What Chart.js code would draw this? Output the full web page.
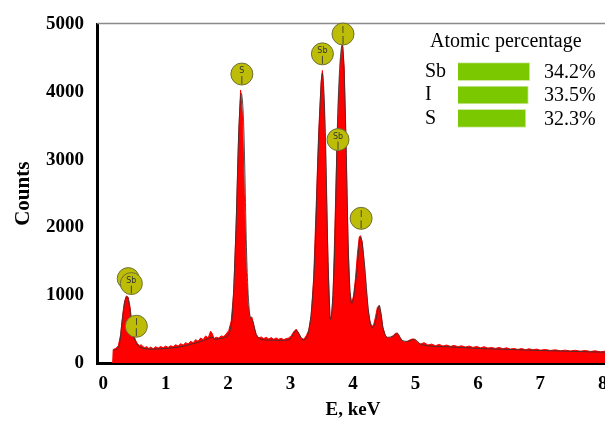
<!DOCTYPE html>
<html>
<head>
<meta charset="utf-8">
<script src="https://cdn.jsdelivr.net/npm/chart.js@4.4.0/dist/chart.umd.min.js"></script>
<style>
    html, body { margin: 0; padding: 0; background: #fff; width: 605px; height: 426px; overflow: hidden; }
    #wrap { position: relative; width: 605px; height: 426px; overflow: hidden; }
    #spectrum { position: absolute; left: 0; top: 0; }
    #atomic { position: absolute; left: 425px; top: 30px; }
</style>
</head>
<body>
<div id="wrap">
    <canvas id="spectrum" width="650" height="426"></canvas>
    <canvas id="atomic" width="180" height="112"></canvas>
</div>
<script>
// spectrum
const energyKeV = [0.15, 0.16, 0.20, 0.24, 0.28, 0.31, 0.34, 0.37, 0.40, 0.43, 0.46, 0.49, 0.52, 0.55, 0.58, 0.61, 0.63, 0.66, 0.70, 0.73,
    0.76, 0.80, 0.84, 0.88, 0.92, 0.96, 1.00, 1.04, 1.08, 1.12, 1.16, 1.20, 1.24, 1.28, 1.32, 1.36, 1.40, 1.44, 1.48, 1.52,
    1.56, 1.60, 1.64, 1.68, 1.72, 1.75, 1.77, 1.81, 1.85, 1.89, 1.93, 1.97, 2.01, 2.05, 2.09, 2.13, 2.17, 2.20, 2.23, 2.26,
    2.29, 2.32, 2.35, 2.38, 2.41, 2.45, 2.49, 2.53, 2.57, 2.61, 2.65, 2.69, 2.73, 2.77, 2.81, 2.85, 2.89, 2.93, 2.97, 3.01,
    3.05, 3.09, 3.13, 3.17, 3.21, 3.25, 3.29, 3.33, 3.37, 3.41, 3.45, 3.49, 3.51, 3.54, 3.57, 3.60, 3.63, 3.65, 3.68, 3.71,
    3.74, 3.77, 3.80, 3.83, 3.86, 3.89, 3.92, 3.95, 3.98, 4.01, 4.04, 4.07, 4.10, 4.12, 4.15, 4.18, 4.21, 4.24, 4.27, 4.30,
    4.33, 4.36, 4.39, 4.42, 4.45, 4.48, 4.52, 4.56, 4.60, 4.64, 4.68, 4.71, 4.75, 4.79, 4.83, 4.87, 4.91, 4.95, 4.99, 5.03,
    5.08, 5.14, 5.20, 5.26, 5.32, 5.38, 5.44, 5.50, 5.56, 5.62, 5.68, 5.74, 5.80, 5.86, 5.92, 5.98, 6.04, 6.10, 6.16, 6.22,
    6.28, 6.34, 6.40, 6.46, 6.52, 6.58, 6.64, 6.70, 6.76, 6.82, 6.88, 6.94, 7.00, 7.08, 7.16, 7.24, 7.32, 7.40, 7.48, 7.56,
    7.64, 7.72, 7.80, 7.88, 7.96, 8.04, 8.15];
const counts = [0, 200, 215, 250, 420, 700, 900, 990, 970, 820, 580, 410, 330, 285, 255, 270, 245, 230, 240, 215,
    235, 210, 240, 220, 245, 225, 250, 230, 255, 240, 270, 250, 285, 265, 300, 280, 320, 300, 345, 320,
    370, 345, 400, 370, 470, 430, 360, 380, 370, 400, 390, 430, 480, 620, 1050, 2100, 3400, 4030, 3650, 2500,
    1400, 850, 660, 680, 560, 420, 370, 385, 360, 380, 355, 375, 350, 370, 350, 365, 345, 360, 370, 400,
    460, 500, 440, 370, 350, 400, 480, 700, 1250, 2300, 3400, 4150, 4320, 3800, 2700, 1500, 700, 620, 1000, 2000,
    3100, 3900, 4450, 4720, 4350, 3100, 1800, 1050, 880, 1000, 1250, 1600, 1860, 1880, 1780, 1450, 1100, 800, 620, 540,
    560, 680, 820, 850, 720, 520, 400, 370, 375, 400, 440, 440, 380, 330, 310, 320, 340, 355, 350, 310,
    280, 300, 265, 280, 255, 275, 250, 265, 245, 260, 240, 255, 235, 250, 230, 245, 225, 240, 220, 230,
    215, 230, 210, 225, 205, 215, 200, 215, 195, 210, 195, 205, 190, 200, 185, 195, 180, 190, 178, 188,
    175, 185, 170, 180, 165, 175, 160];

// smoothed outline drawn over the fill
const fitKeV = [0.16, 0.25, 0.30, 0.34, 0.38, 0.42, 0.47, 0.52, 0.60, 0.80, 1.00, 1.20, 1.40, 1.60, 1.76, 1.78, 1.95, 2.05, 2.12, 2.17,
    2.21, 2.25, 2.30, 2.35, 2.39, 2.45, 2.60, 2.90, 3.00, 3.09, 3.20, 3.30, 3.38, 3.45, 3.51, 3.56, 3.60, 3.64, 3.70, 3.76,
    3.83, 3.88, 3.93, 3.98, 4.05, 4.12, 4.18, 4.25, 4.31, 4.37, 4.42, 4.48, 4.55, 4.65, 4.71, 4.78, 4.88, 4.98, 5.10, 5.50,
    6.00, 6.50, 7.00, 7.50, 8.00, 8.15];
const fitCounts = [190, 240, 600, 880, 980, 850, 480, 310, 230, 205, 215, 235, 275, 330, 380, 350, 380, 560, 1800, 3400,
    3980, 3500, 1500, 700, 630, 420, 340, 335, 360, 480, 340, 520, 1400, 3300, 4280, 3300, 1500, 640, 1500, 3800,
    4700, 3600, 1500, 880, 1250, 1860, 1500, 750, 520, 650, 850, 520, 380, 400, 440, 340, 320, 350, 270, 240,
    215, 200, 185, 172, 160, 158];

const xTicks = [0, 1, 2, 3, 4, 5, 6, 7, 8];
const yTicks = [0, 1000, 2000, 3000, 4000, 5000];

// peak markers
const peakLabels = ['', 'Sb', 'I', 'S', 'Sb', 'I', 'Sb', 'I'];
const peakKeV = [0.40, 0.45, 0.53, 2.22, 3.51, 3.84, 3.76, 4.13];
const peakCounts = [1246, 1173, 543, 4267, 4565, 4858, 3299, 2136];

// atomic percentage box
const elements = ['Sb', 'I', 'S'];
const atomicPercent = [34.2, 33.5, 32.3];

const serifBold = { family: 'Liberation Serif', size: 19, weight: 'bold' };

const peakMarkers = {
    id: 'peakMarkers',
    beforeDatasetsDraw(chart) {
        const { ctx, chartArea } = chart;
        ctx.save();
        ctx.strokeStyle = '#8a8a8a';
        ctx.lineWidth = 1.5;
        ctx.beginPath();
        ctx.moveTo(chartArea.left, chartArea.top - 1);
        ctx.lineTo(chartArea.right, chartArea.top - 1);
        ctx.stroke();
        ctx.restore();
    },
    afterDatasetsDraw(chart) {
        const { ctx, scales } = chart;
        ctx.save();
        peakLabels.forEach((txt, i) => {
            const px = scales.x.getPixelForValue(peakKeV[i]);
            const py = scales.y.getPixelForValue(peakCounts[i]);
            ctx.beginPath();
            ctx.arc(px, py, 11, 0, Math.PI * 2);
            ctx.fillStyle = '#bdbd08';
            ctx.fill();
            ctx.lineWidth = 1;
            ctx.strokeStyle = '#6e6e3a';
            ctx.stroke();
            if (txt) {
                ctx.fillStyle = '#333';
                ctx.font = '8px "DejaVu Sans"';
                ctx.textAlign = 'center';
                ctx.textBaseline = 'middle';
                ctx.fillText(txt, px, py - 3);
                ctx.beginPath();
                ctx.moveTo(px, py + 2);
                ctx.lineTo(px, py + 10);
                ctx.lineWidth = 1;
                ctx.strokeStyle = '#444';
                ctx.stroke();
            }
        });
        ctx.restore();
    }
};

new Chart(document.getElementById('spectrum'), {
    type: 'scatter',
    data: {
        datasets: [{
            data: fitKeV.map((e, i) => ({ x: e, y: fitCounts[i] })),
            showLine: true,
            borderColor: 'rgba(50, 50, 50, 0.85)',
            borderWidth: 1,
            cubicInterpolationMode: 'monotone',
            pointRadius: 0,
            fill: false
        }, {
            data: energyKeV.map((e, i) => ({ x: e, y: counts[i] })),
            showLine: true,
            borderColor: '#ff0000',
            backgroundColor: '#ff0000',
            borderWidth: 1,
            pointRadius: 0,
            fill: 'origin'
        }]
    },
    options: {
        responsive: false,
        animation: false,
        layout: { padding: { top: 22, right: 41, left: 0, bottom: 0 } },
        plugins: { legend: { display: false }, tooltip: { enabled: false } },
        scales: {
            x: {
                type: 'linear',
                min: -0.1,
                max: 8.1,
                afterBuildTicks: scale => { scale.ticks = xTicks.map(v => ({ value: v })); },
                afterFit: scale => { scale.height = 63; },
                grid: { display: false, drawTicks: false },
                border: { color: '#000', width: 3 },
                ticks: { color: '#000', font: serifBold, padding: 10, callback: v => String(v) },
                title: { display: true, text: 'E, keV', color: '#000', font: serifBold, padding: { top: 0, bottom: 5 } }
            },
            y: {
                min: 0,
                max: 5000,
                afterBuildTicks: scale => { scale.ticks = yTicks.map(v => ({ value: v })); },
                afterFit: scale => { scale.width = 97; },
                grid: { display: false, drawTicks: false },
                border: { color: '#000', width: 3 },
                ticks: { color: '#000', font: serifBold, padding: 13, callback: v => String(v) },
                title: { display: true, text: 'Counts', color: '#000', font: { family: 'Liberation Serif', size: 21, weight: 'bold' }, padding: { top: 11, bottom: 0 } }
            }
        }
    },
    plugins: [peakMarkers]
});

const atomicText = {
    id: 'atomicText',
    afterDraw(chart) {
        const { ctx, scales } = chart;
        ctx.save();
        ctx.fillStyle = '#000';
        ctx.font = '20px "Liberation Serif"';
        ctx.textBaseline = 'middle';
        ctx.textAlign = 'left';
        ctx.fillText('Atomic percentage', 5, 12);
        atomicPercent.forEach((p, i) => {
            ctx.fillText(p.toFixed(1) + '%', 119, scales.y.getPixelForValue(i) + 1);
        });
        ctx.restore();
    }
};

new Chart(document.getElementById('atomic'), {
    type: 'bar',
    data: {
        labels: elements,
        datasets: [{
            data: atomicPercent,
            backgroundColor: '#7cc800',
            borderColor: '#cfe8a8',
            borderWidth: 1,
            barThickness: 18
        }]
    },
    options: {
        indexAxis: 'y',
        responsive: false,
        animation: false,
        layout: { padding: { top: 30, bottom: 1, left: 0, right: 0 } },
        plugins: { legend: { display: false }, tooltip: { enabled: false } },
        scales: {
            x: { display: false, min: 0, max: 70 },
            y: {
                afterFit: scale => { scale.width = 33; },
                grid: { display: false },
                border: { display: false },
                ticks: { color: '#000', crossAlign: 'far', padding: 0, autoSkip: false, font: { family: 'Liberation Serif', size: 20 } }
            }
        }
    },
    plugins: [atomicText]
});
</script>
</body>
</html>
